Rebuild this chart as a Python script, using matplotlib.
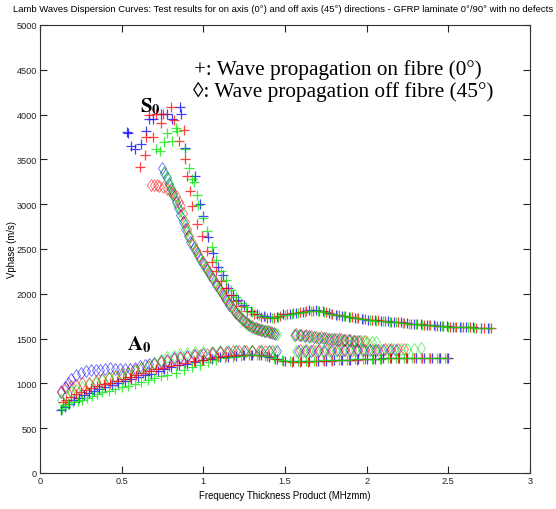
import matplotlib
matplotlib.use("Agg")
import matplotlib.pyplot as plt
from matplotlib import font_manager as fm

plt.rcParams['mathtext.fontset'] = 'stix'

def has_font(name):
    try:
        fm.findfont(name, fallback_to_default=False)
        return True
    except Exception:
        return False

NARROW = 'Liberation Sans Narrow' if has_font('Liberation Sans Narrow') else 'Liberation Sans'
SMALL_SCALE = 1.0 if NARROW == 'Liberation Sans Narrow' else 0.82

title = ("Lamb Waves Dispersion Curves: Test results for on axis (0°) and off axis (45°) "
         "directions - GFRP laminate 0°/90° with no defects")
xlabel = "Frequency Thickness Product (MHzmm)"
ylabel = "Vphase (m/s)"
legend_lines = ["+: Wave propagation on fibre (0°)", "◊: Wave propagation off fibre (45°)"]

x_ticks = [0, 0.5, 1, 1.5, 2, 2.5, 3]
x_tick_labels = ["0", "0.5", "1", "1.5", "2", "2.5", "3"]
y_ticks = [0, 500, 1000, 1500, 2000, 2500, 3000, 3500, 4000, 4500, 5000]

# ---------------- S0 mode, on-axis (+) ----------------
s0_on_blue = [(0.53,3810),(0.54,3800),(0.56,3650),(0.58,3620),(0.62,3670),(0.65,3820),(0.67,3950),
    (0.69,3950),(0.74,4010),(0.78,4010),(0.81,3950),(0.86,4080),(0.865,4010),(0.89,3630),(0.95,3310),
    (0.98,3000),(1.00,2870),(1.03,2630),(1.06,2450),(1.09,2300),(1.12,2210),(1.15,2060),(1.18,1990),
    (1.21,1930),(1.25,1870),(1.29,1810),(1.33,1770),(1.37,1750),(1.41,1740),(1.45,1745),(1.49,1770),
    (1.53,1780),(1.57,1790),(1.61,1800),(1.65,1815),(1.69,1815),(1.73,1805),(1.77,1785),(1.81,1765),
    (1.85,1750),(1.89,1740),(1.93,1730),(1.97,1720),(2.01,1712),(2.05,1705),(2.09,1700),(2.13,1692),
    (2.17,1685),(2.21,1680),(2.25,1672),(2.29,1665),(2.33,1660),(2.37,1655),(2.41,1650),(2.45,1645),
    (2.49,1640),(2.53,1635),(2.57,1630),(2.61,1628),(2.65,1625),(2.70,1622),(2.74,1620)]
s0_on_red = [(0.61,3410),(0.64,3550),(0.65,3750),(0.67,4000),(0.69,3750),(0.71,4006),(0.74,3910),
    (0.75,4006),(0.80,4090),(0.82,3940),(0.85,3700),(0.88,3830),(0.89,3500),(0.90,3320),(0.92,3150),
    (0.93,2983),(0.96,2780),(0.99,2650),(1.02,2480),(1.05,2350),(1.08,2250),(1.11,2140),(1.14,2060),
    (1.17,1990),(1.20,1920),(1.23,1860),(1.27,1810),(1.31,1770),(1.35,1745),(1.39,1735),(1.43,1730),
    (1.47,1750),(1.51,1770),(1.55,1785),(1.59,1795),(1.63,1805),(1.67,1810),(1.71,1808),(1.75,1795),
    (1.79,1775),(1.83,1760),(1.87,1748),(1.91,1738),(1.95,1728),(1.99,1718),(2.03,1710),(2.07,1703),
    (2.11,1696),(2.15,1688),(2.19,1682),(2.23,1676),(2.27,1668),(2.31,1662),(2.35,1656),(2.39,1650),
    (2.43,1645),(2.47,1640),(2.51,1635),(2.55,1631),(2.59,1627),(2.63,1624),(2.67,1621),(2.72,1618),
    (2.76,1615)]
s0_on_green = [(0.71,3620),(0.735,3590),(0.76,3690),(0.78,3790),(0.81,3710),(0.835,3850),(0.84,3820),
    (0.89,3620),(0.91,3400),(0.93,3280),(0.945,3250),(0.96,3100),(0.97,2990),(1.00,2850),(1.02,2700),
    (1.05,2520),(1.08,2380),(1.11,2260),(1.14,2150),(1.17,2040),(1.20,1960),(1.23,1900),(1.26,1850),
    (1.30,1800),(1.34,1765),(1.38,1745),(1.42,1735),(1.46,1745),(1.50,1765),(1.54,1780),(1.58,1790),
    (1.62,1800),(1.66,1808),(1.70,1805),(1.74,1795),(1.78,1780),(1.82,1762),(1.86,1748),(1.90,1736),
    (1.94,1726),(1.98,1716),(2.02,1708),(2.06,1700),(2.10,1694),(2.14,1686),(2.18,1680),(2.22,1674),
    (2.26,1667),(2.30,1661),(2.34,1655),(2.38,1650),(2.42,1645),(2.46,1640),(2.50,1635),(2.54,1632),
    (2.58,1628),(2.62,1625),(2.66,1622),(2.70,1620),(2.75,1618)]

# ---------------- S0 mode, off-axis (diamonds) ----------------
s0_off_blue = [(0.745,3400),(0.76,3350),(0.775,3290),(0.79,3230),(0.80,3170),(0.815,3100),(0.83,3030),
    (0.845,2960),(0.86,2880),(0.875,2800),(0.89,2720),(0.905,2650),(0.92,2580),(0.94,2510),(0.96,2450),
    (0.98,2390),(1.00,2330),(1.02,2270),(1.04,2210),(1.06,2160),(1.08,2100),(1.10,2040),(1.12,1990),
    (1.14,1930),(1.16,1880),(1.18,1830),(1.20,1790),(1.22,1750),(1.24,1710),(1.26,1680),(1.28,1650),
    (1.30,1630),(1.32,1615),(1.34,1605),(1.36,1595),(1.38,1585),(1.40,1575),(1.42,1565),(1.44,1555),
    (1.56,1545),(1.59,1540),(1.62,1532),(1.65,1525),(1.68,1518),(1.71,1512),(1.74,1505),(1.77,1500),
    (1.80,1495),(1.83,1490),(1.86,1485),(1.89,1480),(1.92,1476),(1.95,1472)]
s0_off_red = [(0.68,3215),(0.70,3215),(0.715,3210),(0.73,3200),(0.755,3190),(0.775,3170),(0.795,3150),
    (0.815,3120),(0.835,3095),(0.85,3030),(0.865,2980),(0.875,2900),(0.885,2800),(0.90,2720),
    (0.915,2640),(0.935,2560),(0.955,2490),(0.975,2420),(0.995,2360),(1.015,2300),(1.035,2240),
    (1.055,2180),(1.075,2120),(1.095,2060),(1.115,2010),(1.135,1950),(1.155,1900),(1.175,1850),
    (1.195,1800),(1.215,1760),(1.235,1720),(1.255,1690),(1.275,1660),(1.295,1640),(1.315,1620),
    (1.335,1610),(1.355,1600),(1.375,1590),(1.395,1580),(1.415,1570),(1.435,1560),
    (1.57,1550),(1.60,1543),(1.63,1535),(1.66,1528),(1.69,1520),(1.72,1513),(1.75,1507),(1.78,1500),
    (1.81,1495),(1.84,1490),(1.87,1485),(1.90,1480),(1.93,1476),(1.96,1472),(1.99,1470)]
s0_off_green = [(0.76,3360),(0.775,3300),(0.79,3240),(0.80,3180),(0.81,3120),(0.825,3060),(0.84,2990),
    (0.855,2920),(0.87,2850),(0.885,2770),(0.90,2700),(0.915,2630),(0.93,2560),(0.95,2490),(0.97,2420),
    (0.99,2360),(1.01,2300),(1.03,2240),(1.05,2190),(1.07,2130),(1.09,2080),(1.11,2020),(1.13,1970),
    (1.15,1910),(1.17,1860),(1.19,1810),(1.21,1770),(1.23,1730),(1.25,1700),(1.27,1665),(1.29,1640),
    (1.31,1622),(1.33,1610),(1.35,1600),(1.37,1590),(1.39,1580),(1.41,1570),(1.43,1560),(1.45,1548),
    (1.555,1540),(1.585,1536),(1.615,1530),(1.645,1522),(1.675,1515),(1.705,1510),(1.735,1503),
    (1.765,1498),(1.795,1493),(1.825,1488),(1.855,1483),(1.885,1479),(1.915,1475),(1.945,1471),
    (1.975,1468),(2.005,1466),(2.035,1465),(2.06,1465)]

# ---------------- A0 mode, on-axis (+) ----------------
a0_on_blue = [(0.13,700),(0.15,740),(0.18,770),(0.21,810),(0.24,840),(0.27,865),(0.30,890),(0.33,915),
    (0.36,940),(0.40,960),(0.44,980),(0.48,1000),(0.52,1030),(0.56,1050),(0.60,1070),(0.64,1090),
    (0.68,1110),(0.72,1140),(0.76,1160),(0.80,1180),(0.85,1200),(0.90,1220),(0.95,1240),(1.00,1260),
    (1.05,1275),(1.10,1290),(1.15,1300),(1.20,1310),(1.25,1315),(1.30,1320),(1.35,1315),(1.40,1300),
    (1.45,1270),(1.50,1255),(1.55,1250),(1.60,1248),(1.65,1250),(1.70,1252),(1.75,1255),(1.80,1258),
    (1.85,1262),(1.90,1265),(1.95,1268),(2.00,1272),(2.05,1275),(2.10,1278),(2.15,1280),(2.20,1282),
    (2.25,1283),(2.30,1285),(2.35,1285),(2.40,1285),(2.45,1285),(2.50,1285)]
a0_on_red = [(0.14,790),(0.16,820),(0.19,850),(0.22,880),(0.25,905),(0.28,930),(0.31,950),(0.35,975),
    (0.39,995),(0.43,1010),(0.47,1030),(0.51,1050),(0.55,1075),(0.59,1095),(0.63,1120),(0.67,1140),
    (0.71,1160),(0.75,1175),(0.79,1190),(0.84,1210),(0.89,1230),(0.94,1250),(0.99,1265),(1.04,1280),
    (1.09,1295),(1.14,1305),(1.19,1312),(1.24,1318),(1.29,1322),(1.34,1318),(1.39,1305),(1.44,1275),
    (1.49,1245),(1.54,1235),(1.59,1235),(1.64,1240),(1.69,1245),(1.74,1250),(1.79,1255),(1.84,1260),
    (1.89,1263),(1.94,1266),(1.99,1270),(2.04,1274),(2.09,1277),(2.14,1280),(2.19,1282),(2.24,1284),
    (2.29,1285),(2.34,1286),(2.39,1286),(2.44,1286),(2.49,1286)]
a0_on_green = [(0.135,715),(0.155,745),(0.17,770),(0.20,790),(0.23,805),(0.26,820),(0.29,840),
    (0.32,860),(0.35,880),(0.38,900),(0.42,920),(0.46,935),(0.50,955),(0.54,975),(0.58,995),(0.62,1015),
    (0.66,1040),(0.70,1060),(0.74,1080),(0.78,1095),(0.83,1120),(0.88,1150),(0.93,1180),(0.98,1210),
    (1.03,1240),(1.08,1265),(1.13,1285),(1.18,1300),(1.23,1310),(1.28,1318),(1.33,1320),(1.38,1310),
    (1.43,1285),(1.48,1260),(1.53,1255),(1.58,1252),(1.63,1252),(1.68,1254),(1.73,1256),(1.78,1259),
    (1.83,1262),(1.88,1265),(1.93,1268),(1.98,1271),(2.03,1274),(2.08,1277),(2.13,1279),(2.18,1281),
    (2.23,1283),(2.28,1284),(2.33,1285),(2.38,1285),(2.43,1285),(2.48,1285)]

# ---------------- A0 mode, off-axis (diamonds) ----------------
a0_off_blue = [(0.13,900),(0.15,960),(0.17,1010),(0.19,1050),(0.22,1090),(0.25,1120),(0.28,1140),
    (0.31,1145),(0.34,1145),(0.37,1150),(0.40,1160),(0.43,1170),(0.46,1165),(0.49,1160),(0.52,1160),
    (0.55,1165),(0.58,1175),(0.61,1190),(0.64,1205),(0.67,1215),(0.70,1230),(0.74,1250),(0.78,1265),
    (0.82,1280),(0.86,1295),(0.90,1305),(0.95,1320),(1.00,1330),(1.05,1340),(1.10,1350),(1.15,1355),
    (1.20,1360),(1.25,1362),(1.30,1365),(1.35,1365),(1.40,1362),(1.45,1360),
    (1.58,1365),(1.62,1365),(1.66,1366),(1.70,1366),(1.74,1367),(1.78,1367),(1.82,1368),(1.86,1368),
    (1.90,1369),(1.94,1370),(1.98,1371),(2.02,1372),(2.06,1373),(2.10,1374),(2.14,1375),(2.18,1376)]
a0_off_red = [(0.13,920),(0.16,950),(0.19,970),(0.22,980),(0.26,1000),(0.30,1010),(0.34,1030),
    (0.38,1050),(0.42,1065),(0.46,1080),(0.50,1100),(0.54,1120),(0.58,1150),(0.62,1170),(0.66,1195),
    (0.70,1215),(0.74,1235),(0.78,1255),(0.82,1270),(0.86,1285),(0.90,1300),(0.94,1312),(0.98,1322),
    (1.02,1332),(1.06,1340),(1.10,1347),(1.14,1352),(1.18,1357),(1.22,1360),(1.26,1363),(1.30,1365),
    (1.34,1366),(1.38,1364),(1.42,1362),
    (1.59,1370),(1.63,1370),(1.67,1371),(1.71,1371),(1.75,1372),(1.79,1372),(1.83,1373),(1.87,1373),
    (1.91,1374),(1.95,1375),(1.99,1376),(2.03,1377),(2.07,1378),(2.11,1379),(2.15,1380),(2.19,1381),
    (2.23,1382)]
a0_off_green = [(0.13,820),(0.16,860),(0.19,900),(0.22,930),(0.26,960),(0.30,990),(0.34,1010),
    (0.38,1035),(0.42,1055),(0.46,1070),(0.50,1090),(0.54,1110),(0.58,1140),(0.62,1170),(0.66,1195),
    (0.70,1225),(0.74,1260),(0.78,1290),(0.82,1310),(0.86,1325),(0.90,1335),(0.95,1345),(1.00,1350),
    (1.05,1355),(1.10,1358),(1.15,1360),(1.20,1362),(1.25,1364),(1.30,1365),(1.35,1366),(1.40,1366),
    (1.44,1365),
    (1.57,1360),(1.61,1361),(1.65,1362),(1.69,1363),(1.73,1364),(1.77,1365),(1.81,1366),(1.85,1367),
    (1.89,1368),(1.93,1370),(1.97,1372),(2.01,1374),(2.05,1376),(2.09,1378),(2.13,1380),(2.17,1382),
    (2.21,1384),(2.25,1386),(2.29,1388),(2.33,1390)]

COLORS = {'blue': (0, 0, 1), 'red': (1, 0, 0), 'green': (0, 0.9, 0)}

fig = plt.figure(figsize=(5.56, 5.10), dpi=100)
ax = fig.add_axes([40/556, 36/510, 490/556, 448/510])

def plot_set(data, color, marker):
    xs, ys = zip(*data)
    if marker == '+':
        ax.plot(xs, ys, linestyle='none', marker='+', markersize=6.5, markeredgewidth=0.9,
                color=color, alpha=0.75)
    else:
        ax.plot(xs, ys, linestyle='none', marker='d', markersize=6.0, markeredgewidth=0.6,
                markerfacecolor='none', markeredgecolor=color, alpha=0.6)

for data, c in [(s0_off_blue, 'blue'), (s0_off_red, 'red'), (s0_off_green, 'green'),
                (a0_off_blue, 'blue'), (a0_off_red, 'red'), (a0_off_green, 'green')]:
    plot_set(data, COLORS[c], 'd')
for data, c in [(s0_on_blue, 'blue'), (s0_on_red, 'red'), (s0_on_green, 'green'),
                (a0_on_blue, 'blue'), (a0_on_red, 'red'), (a0_on_green, 'green')]:
    plot_set(data, COLORS[c], '+')

ax.set_xlim(0, 3)
ax.set_ylim(0, 5000)
ax.set_xticks(x_ticks)
ax.set_xticklabels(x_tick_labels)
ax.set_yticks(y_ticks)
ax.set_yticklabels([str(v) for v in y_ticks])
ax.tick_params(direction='in', length=5, width=0.8, top=True, right=True,
               labelsize=8*SMALL_SCALE, colors='#222222', pad=2)
for lab in ax.get_xticklabels() + ax.get_yticklabels():
    lab.set_fontfamily(NARROW)
for s in ax.spines.values():
    s.set_color('#333333')
    s.set_linewidth(0.8)

ax.set_xlabel(xlabel, fontsize=8.5*SMALL_SCALE, fontfamily=NARROW, labelpad=4)
ax.set_ylabel(ylabel, fontsize=8.5*SMALL_SCALE, fontfamily=NARROW)
ax.yaxis.set_label_coords(-0.046, 0.5)
fig.text(553/556, 1 - 9/510, title, ha='right', va='center', fontsize=8.3*SMALL_SCALE,
         fontfamily=NARROW)

ax.text(0.612, 4040, r'$\mathbf{S}_{\mathbf{0}}$', fontsize=15, ha='left', va='baseline')
ax.text(0.533, 1384, r'$\mathbf{A}_{\mathbf{0}}$', fontsize=15, ha='left', va='baseline')
ax.text(0.943, 4453, legend_lines[0], fontsize=15.3, family=['Liberation Serif', 'DejaVu Serif'],
        ha='left', va='baseline')
ax.text(0.937, 4207, legend_lines[1], fontsize=15.3, family=['Liberation Serif', 'DejaVu Serif'],
        ha='left', va='baseline')

fig.savefig('out.png', dpi=100)
